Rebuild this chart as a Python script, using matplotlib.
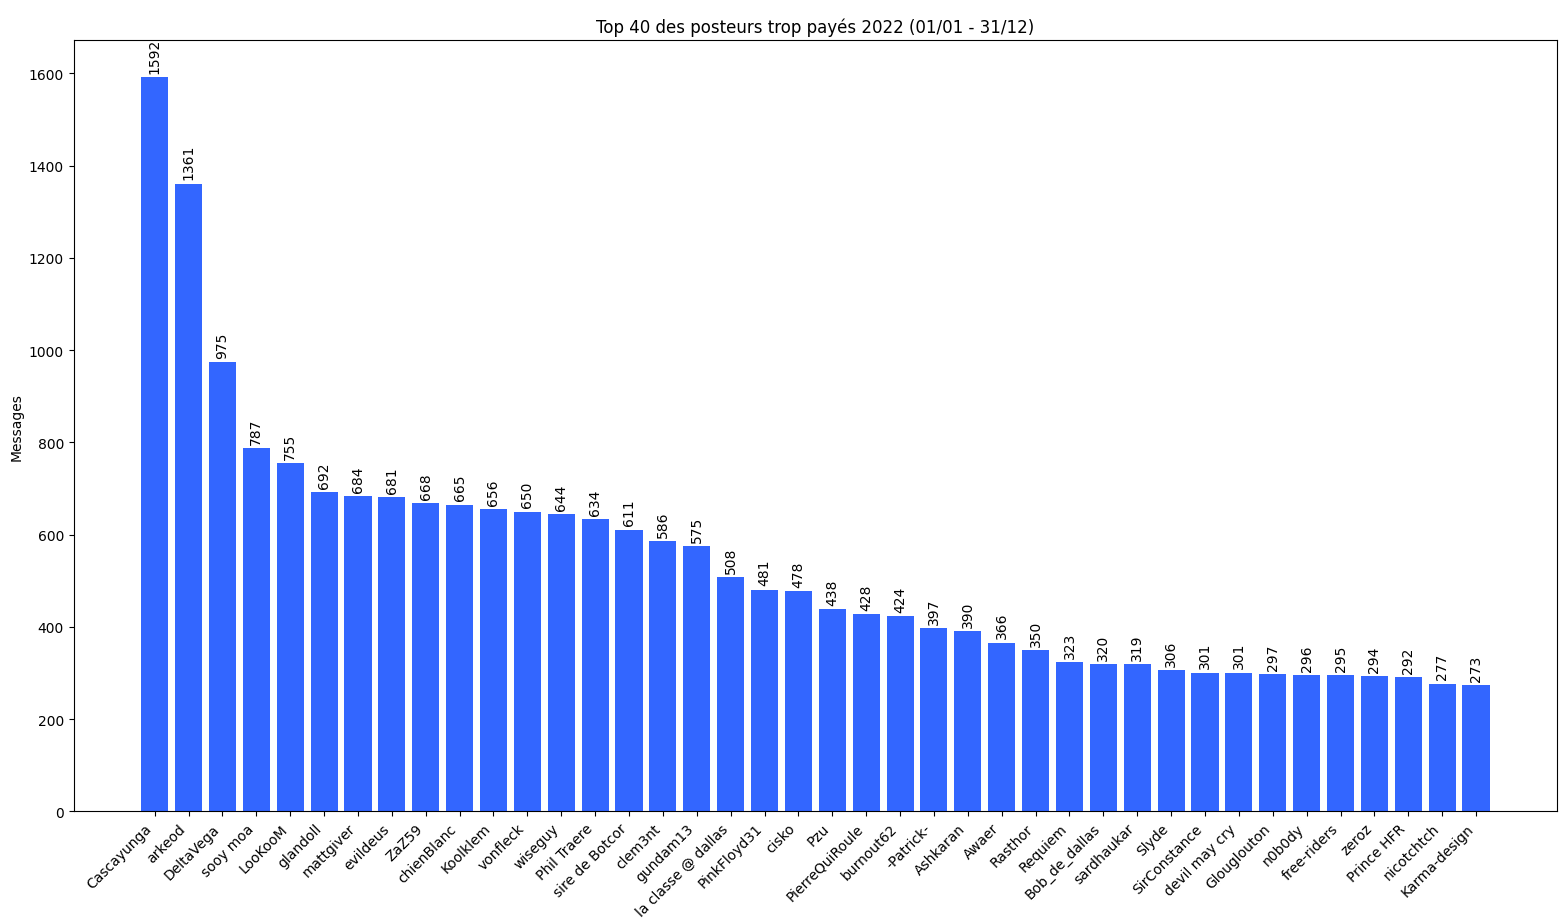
import matplotlib
matplotlib.use("Agg")
import matplotlib.pyplot as plt

names = ["Cascayunga", "arkeod", "DeltaVega", "sooy moa", "LooKooM", "glandoll",
         "mattgiver", "evildeus", "ZaZ59", "chienBlanc", "Koolklem", "vonfleck",
         "wiseguy", "Phil Traere", "sire de Botcor", "clem3nt", "gundam13",
         "la classe @ dallas", "PinkFloyd31", "cisko", "Pzu", "PierreQuiRoule",
         "burnout62", "-Patrick-", "Ashkaran", "Awaer", "Rasthor", "Requiem",
         "Bob_de_dallas", "sardhaukar", "Slyde", "SirConstance", "devil may cry",
         "Glouglouton", "n0b0dy", "free-riders", "zeroz", "Prince HFR",
         "nicotchtch", "Karma-design"]
messages = [1592, 1361, 975, 787, 755, 692, 684, 681, 668, 665, 656, 650, 644,
            634, 611, 586, 575, 508, 481, 478, 438, 428, 424, 397, 390, 366,
            350, 323, 320, 319, 306, 301, 301, 297, 296, 295, 294, 292, 277, 273]

fig, ax = plt.subplots(figsize=(15.68, 9.2), dpi=100)
fig.subplots_adjust(left=0.047, right=0.993, top=0.955, bottom=0.117)
bars = ax.bar(names, messages, color="#3366ff")
for b, v in zip(bars, messages):
    ax.annotate(str(v), (b.get_x() + b.get_width() / 2, v), xytext=(0, 3),
                textcoords="offset points", ha="center", va="bottom", rotation=90)
ax.set_ylabel("Messages")
ax.set_title("Top 40 des posteurs trop payés 2022 (01/01 - 31/12)")
plt.setp(ax.get_xticklabels(), rotation=45, ha="right")
fig.savefig("out.png")
